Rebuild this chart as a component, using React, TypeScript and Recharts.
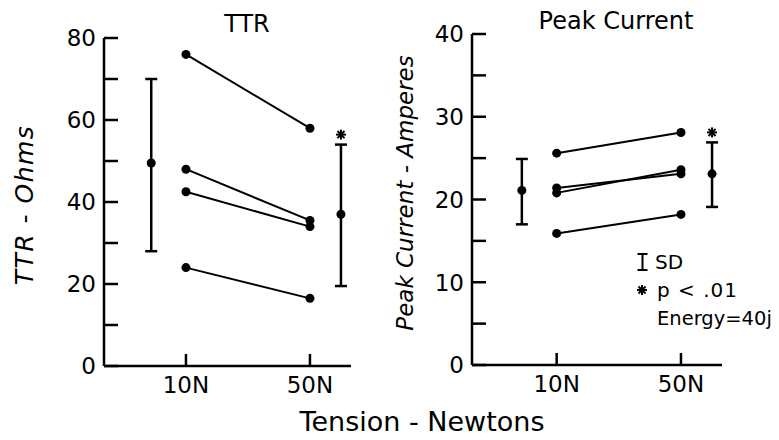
import React from 'react';
import { ScatterChart, Scatter, XAxis, YAxis, ErrorBar } from 'recharts';

// ---------- data ----------
const tensionLabels = ['10N', '50N'];
const tensionPos = [1, 2];
const sdPos = [0.72, 2.25];

const ttrAt10N = [76, 48, 42.5, 24];
const ttrAt50N = [58, 35.5, 34, 16.5];
const ttrMean = [49.5, 37];
const ttrLow = [28, 19.5];
const ttrHigh = [70, 54];
const ttrSignificant = [false, true];
const ttrTicks = [0, 10, 20, 30, 40, 50, 60, 70, 80];
const ttrTickLabels = ['0', '', '20', '', '40', '', '60', '', '80'];

const pcAt10N = [25.6, 21.4, 20.8, 15.9];
const pcAt50N = [28.1, 23.1, 23.6, 18.2];
const pcMean = [21.1, 23.1];
const pcLow = [17, 19.1];
const pcHigh = [24.9, 26.9];
const pcSignificant = [false, true];
const pcTicks = [0, 5, 10, 15, 20, 25, 30, 35, 40];
const pcTickLabels = ['0', '', '10', '', '20', '', '30', '', '40'];

const FONT = 'DejaVu Sans, Liberation Sans, Arial, sans-serif';
const INK = '#000';
const Y_GAP = 8; // gap between tick label and axis
const Y_TICK_LEN = 14;
const X_GAP = 10;
const X_TICK_LEN = 12;

const Dot = (p: any) => <circle cx={p.cx} cy={p.cy} r={4.5} fill={INK} />;

const STAR_ANGLES = [0, 45, 90, 135];
const AsteriskGlyph = ({ cx, cy, r }: { cx: number; cy: number; r: number }) => (
  <g>
    {STAR_ANGLES.map((a) => {
      const rad = (a * Math.PI) / 180;
      const dx = Math.cos(rad) * r;
      const dy = Math.sin(rad) * r;
      return <line key={a} x1={cx - dx} y1={cy - dy} x2={cx + dx} y2={cy + dy} stroke={INK} strokeWidth={2} />;
    })}
  </g>
);
// placed at the top of the SD bar, drawn just above it
const SigMark = (p: any) => <AsteriskGlyph cx={p.cx} cy={p.cy - 10} r={5} />;

const makeYTick = (ticks: number[], labels: string[]) => (p: any) => {
  const label = labels[ticks.indexOf(p.payload.value)] ?? '';
  const ax = p.x + Y_GAP;
  return (
    <g>
      <line x1={ax} y1={p.y} x2={ax + Y_TICK_LEN} y2={p.y} stroke={INK} strokeWidth={2.5} />
      <text x={p.x} y={p.y} dy="0.36em" textAnchor="end" fontSize={23} fontFamily={FONT} fill={INK}>
        {label}
      </text>
    </g>
  );
};

const XTick = (p: any) => {
  const label = tensionLabels[tensionPos.indexOf(p.payload.value)] ?? '';
  const ay = p.y - X_GAP;
  return (
    <g>
      <line x1={p.x} y1={ay} x2={p.x} y2={ay - X_TICK_LEN} stroke={INK} strokeWidth={2.5} />
      <text x={p.x} y={p.y + 17} textAnchor="middle" fontSize={23} fontFamily={FONT} fill={INK}>
        {label}
      </text>
    </g>
  );
};

type PanelProps = {
  at10: number[];
  at50: number[];
  mean: number[];
  low: number[];
  high: number[];
  sig: boolean[];
  ticks: number[];
  tickLabels: string[];
  yMax: number;
  xDomain: [number, number];
  width: number;
  margin: { top: number; right: number; bottom: number; left: number };
  yAxisWidth: number;
};

function Panel(props: PanelProps) {
  const { at10, at50, mean, low, high, sig, ticks, tickLabels, yMax, xDomain, width, margin, yAxisWidth } = props;
  const meanData = mean.map((m, i) => ({ x: sdPos[i], y: m, err: [m - low[i], high[i] - m] }));
  const sigData = high.map((h, i) => ({ x: sdPos[i], y: h })).filter((_, i) => sig[i]);
  return (
    <ScatterChart width={width} height={440} margin={margin}>
      <XAxis
        type="number"
        dataKey="x"
        domain={xDomain}
        allowDataOverflow
        ticks={tensionPos}
        interval={0}
        height={30}
        axisLine={{ stroke: INK, strokeWidth: 2.5 }}
        tickLine={false}
        tickSize={0}
        tickMargin={X_GAP}
        tick={XTick}
      />
      <YAxis
        type="number"
        dataKey="y"
        domain={[0, yMax]}
        allowDataOverflow
        ticks={ticks}
        interval={0}
        width={yAxisWidth}
        axisLine={{ stroke: INK, strokeWidth: 2.5 }}
        tickLine={false}
        tickSize={0}
        tickMargin={Y_GAP}
        tick={makeYTick(ticks, tickLabels)}
      />
      {at10.map((v, i) => (
        <Scatter
          key={'s' + i}
          data={[
            { x: tensionPos[0], y: v },
            { x: tensionPos[1], y: at50[i] },
          ]}
          line={{ stroke: INK, strokeWidth: 2 }}
          lineType="joint"
          shape={Dot}
          isAnimationActive={false}
        />
      ))}
      <Scatter data={meanData} shape={Dot} isAnimationActive={false}>
        <ErrorBar dataKey="err" direction="y" width={6} stroke={INK} strokeWidth={2.5} isAnimationActive={false} />
      </Scatter>
      <Scatter data={sigData} shape={SigMark} isAnimationActive={false} />
    </ScatterChart>
  );
}

export default function App() {
  return (
    <div style={{ position: 'absolute', left: 0, top: 0, width: 779, height: 440, background: '#fff' }}>
      <div style={{ position: 'absolute', left: 0, top: 0 }}>
        <Panel
          at10={ttrAt10N}
          at50={ttrAt50N}
          mean={ttrMean}
          low={ttrLow}
          high={ttrHigh}
          sig={ttrSignificant}
          ticks={ttrTicks}
          tickLabels={ttrTickLabels}
          yMax={80}
          xDomain={[0.339, 2.331]}
          width={390}
          margin={{ top: 38, right: 39, bottom: 44, left: 0 }}
          yAxisWidth={104}
        />
      </div>
      <div style={{ position: 'absolute', left: 390, top: 0 }}>
        <Panel
          at10={pcAt10N}
          at50={pcAt50N}
          mean={pcMean}
          low={pcLow}
          high={pcHigh}
          sig={pcSignificant}
          ticks={pcTicks}
          tickLabels={pcTickLabels}
          yMax={40}
          xDomain={[0.319, 2.33]}
          width={389}
          margin={{ top: 34, right: 57, bottom: 45, left: 0 }}
          yAxisWidth={82}
        />
      </div>
      <svg width={779} height={440} style={{ position: 'absolute', left: 0, top: 0, pointerEvents: 'none' }} fontFamily={FONT} fill={INK}>
        <text x={247} y={32} textAnchor="middle" fontSize={24}>TTR</text>
        <text x={616} y={29} textAnchor="middle" fontSize={24}>Peak Current</text>
        <text x={422} y={431} textAnchor="middle" fontSize={27}>Tension - Newtons</text>
        <text transform="translate(33,205) rotate(-90)" textAnchor="middle" fontSize={25} fontStyle="italic" letterSpacing={1.5}>TTR - Ohms</text>
        <text transform="translate(413,193) rotate(-90)" textAnchor="middle" fontSize={23} fontStyle="italic">Peak Current - Amperes</text>
        <g stroke={INK} strokeWidth={2}>
          <line x1={642.5} y1={254} x2={642.5} y2={270} />
          <line x1={637.5} y1={254} x2={647.5} y2={254} />
          <line x1={637.5} y1={270} x2={647.5} y2={270} />
        </g>
        <text x={655} y={269} fontSize={20}>SD</text>
        <AsteriskGlyph cx={642} cy={290} r={5} />
        <text x={657} y={297} fontSize={20} letterSpacing={1}>p &lt; .01</text>
        <text x={657} y={325} fontSize={19.5}>Energy=40j</text>
      </svg>
    </div>
  );
}
